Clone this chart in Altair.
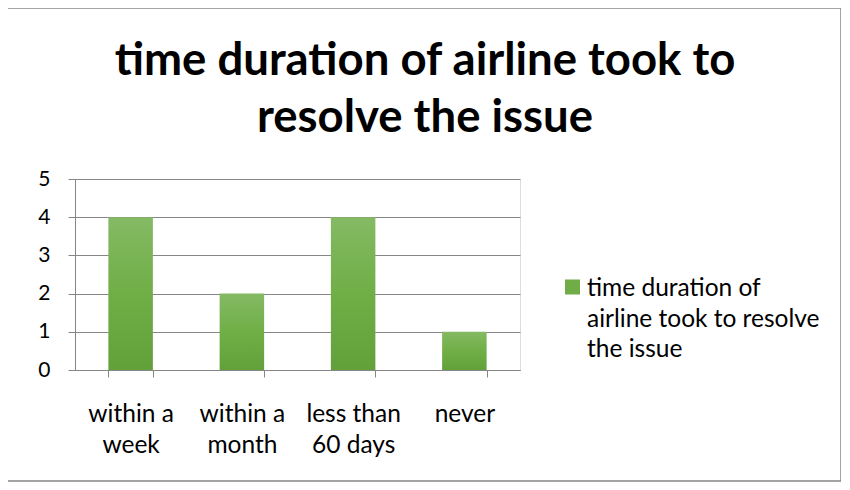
import altair as alt
import pandas as pd

categories = ["within a\nweek", "within a\nmonth", "less than\n60 days", "never"]
values = [4, 2, 4, 1]
series_name = "time duration of airline took to resolve the issue"
title_lines = ["time duration of airline took to", "resolve the issue"]
legend_lines = ["time duration of", "airline took to resolve", "the issue"]

df = pd.DataFrame({"category": categories, "value": values, "series": series_name})
one_df = pd.DataFrame({"series": [series_name]})

FONT = "Lato"
W, H = 445, 191
PAD = {"left": 67, "top": 171, "right": 321, "bottom": 112}
GREEN = "#70ad47"
GRAY = "#868686"

x_enc = alt.X(
    "category:N",
    sort=categories,
    scale=alt.Scale(paddingInner=0.6, paddingOuter=0.3),
    axis=alt.Axis(
        title=None,
        orient="bottom",
        labelAngle=0,
        labelExpr="split(datum.label, '\\n')",
        labelFontSize=24.5,
        labelFont=FONT,
        labelColor="#000000",
        labelLineHeight=31,
        labelPadding=25,
        labelBaseline="top",
        ticks=True,
        tickBand="extent",
        tickSize=7,
        tickColor=GRAY,
        domainColor=GRAY,
    ),
)
y_enc = alt.Y(
    "value:Q",
    scale=alt.Scale(domain=[0, 5]),
    axis=alt.Axis(
        title=None,
        values=[0, 1, 2, 3, 4, 5],
        labelFontSize=21,
        labelFont=FONT,
        labelColor="#000000",
        labelPadding=18,
        tickSize=7,
        tickColor=GRAY,
        gridColor=GRAY,
        domainColor=GRAY,
    ),
)

bars = alt.Chart(df).mark_bar(
    color={
        "gradient": "linear",
        "x1": 0, "y1": 0, "x2": 0, "y2": 1,
        "stops": [
            {"offset": 0, "color": "#84ba64"},
            {"offset": 0.5, "color": "#70ae46"},
            {"offset": 1, "color": "#62a03a"},
        ],
    }
).encode(x=x_enc, y=y_enc)

# title (Excel-style, centred on the whole chart)
title = alt.Chart(one_df).mark_text(
    align="center", baseline="alphabetic", font=FONT, fontSize=45.5, fontWeight="bold",
    color="#000000", lineHeight=57, text=title_lines,
).encode(x=alt.value(350), y=alt.value(-104))

# legend (Excel-like wrapped label)
leg_symbol = alt.Chart(one_df).mark_square(size=225, color=GREEN, opacity=1).encode(
    x=alt.value(497.5), y=alt.value(108)
)
leg_text = alt.Chart(one_df).mark_text(
    align="left", baseline="alphabetic", font=FONT, fontSize=24.5, color="#000000",
    lineHeight=30.5, text=legend_lines,
).encode(x=alt.value(512), y=alt.value(117))

border = alt.Chart(one_df).mark_rect(
    fill=None, stroke=GRAY, strokeWidth=1.5
).encode(
    x=alt.value(-68), x2=alt.value(766), y=alt.value(-171), y2=alt.value(302)
)

chart = alt.layer(bars, title, leg_symbol, leg_text, border).properties(
    width=W,
    height=H,
    autosize=alt.AutoSizeParams(type="none"),
    padding=PAD,
).configure_view(stroke=None).configure(background="white")

chart.save("out.html", embed_options={"renderer": "svg", "actions": False})
